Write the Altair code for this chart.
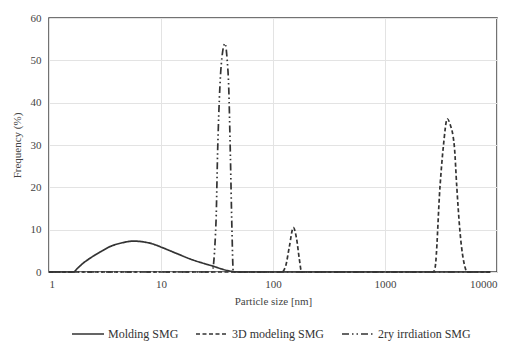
import altair as alt
import pandas as pd

series_names = ["Molding SMG", "3D modeling SMG", "2ry irrdiation SMG"]

molding_x = [1, 1.65, 1.8, 2.0, 2.25, 2.5, 2.85, 3.5, 4.5, 5.66, 7, 8.5, 10.3, 14, 19, 25, 29, 36, 44, 50, 8700]
molding_y = [0, 0, 0.9, 2.0, 3.0, 3.8, 4.7, 6.0, 6.9, 7.3, 7.1, 6.6, 5.75, 4.3, 2.9, 1.9, 1.4, 0.6, 0.1, 0, 0]

model_x = [1, 120, 130, 140, 152, 162, 172, 180, 2700, 2800, 3100, 3320, 3600, 3800, 4160, 4370, 4680, 5200, 5400, 8700]
model_y = [0, 0, 1.5, 6.0, 10.5, 8.0, 3.0, 0, 0, 1.0, 20.3, 29.7, 36.2, 35.0, 29.7, 20.3, 9.3, 1.0, 0, 0]

irr_x = [1, 28.5, 31, 32, 33.6, 35.5, 37.3, 39, 40.2, 41.6, 43, 44.2, 8700]
irr_y = [0, 0, 12, 28, 44, 52, 54, 50, 44, 28, 10, 0, 0]

rows = []
for name, xs, ys in zip(series_names, [molding_x, model_x, irr_x], [molding_y, model_y, irr_y]):
    for i, (x, y) in enumerate(zip(xs, ys)):
        rows.append({"series": name, "size": x, "freq": y, "order": i})
df = pd.DataFrame(rows)

font = "Liberation Serif"

chart = alt.Chart(df).mark_line(interpolate="monotone", strokeWidth=1.7, color="#333").encode(
    x=alt.X("size:Q", scale=alt.Scale(type="log", domain=[1, 10000], nice=False),
            axis=alt.Axis(values=[1, 10, 100, 1000, 10000], format="d", title="Particle size [nm]",
                          grid=True, ticks=False, domain=False, labelPadding=6, titlePadding=6)),
    y=alt.Y("freq:Q", scale=alt.Scale(domain=[0, 60], nice=False),
            axis=alt.Axis(values=[0, 10, 20, 30, 40, 50, 60], title="Frequency (%)",
                          grid=True, ticks=False, domain=False, labelPadding=8, titlePadding=8)),
    strokeDash=alt.StrokeDash("series:N", sort=series_names,
                              scale=alt.Scale(domain=series_names, range=[[1, 0], [4, 2.5], [7, 3, 1.5, 3, 1.5, 3]]),
                              legend=alt.Legend(title=None, orient="none", direction="horizontal",
                                                legendX=22, legendY=299, symbolType="stroke",
                                                symbolSize=1024, symbolStrokeWidth=1.5,
                                                symbolStrokeColor="#333", columnPadding=14,
                                                labelOffset=3,
                                                labelFontSize=12, labelFont=font, labelColor="#333")),
    order="order:Q",
    detail="series:N",
).properties(
    width=448, height=254,
    autosize=alt.AutoSizeParams(type="none"),
    padding={"left": 41, "top": 10, "right": 7, "bottom": 90},
).configure_view(
    stroke="#444", strokeWidth=1.5
).configure_axis(
    labelFont=font, titleFont=font, labelFontSize=11, titleFontSize=11,
    labelColor="#444", titleColor="#444", titleFontWeight="normal",
    gridColor="#e3e3e3", gridWidth=1
)

chart.save("out.html", embed_options={"renderer": "svg", "actions": False})
